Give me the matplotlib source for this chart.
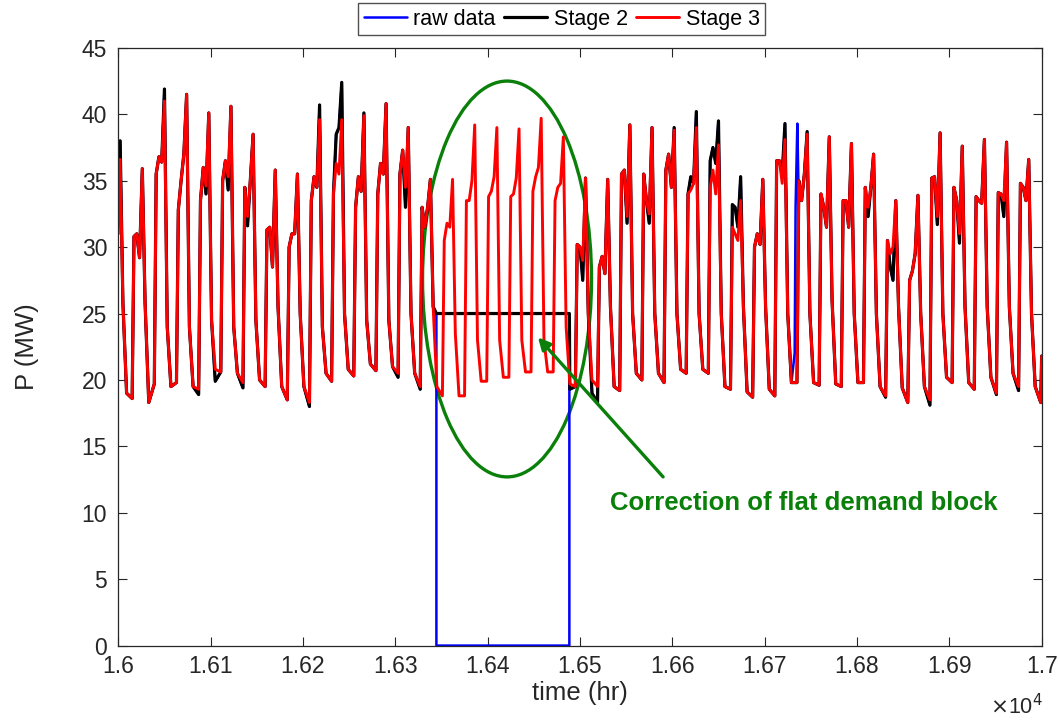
import numpy as np
import matplotlib.pyplot as plt
from matplotlib.patches import Ellipse

plt.rcParams['font.family'] = ['Liberation Sans', 'DejaVu Sans']

# ---- data (P in MW, time in hr) ----
first_peak = 16002          # hour of the first evening peak, one peak per 24 h
start_p3, start_p2 = 31.0, 32.0   # value at t = 16000
end_p = 21.8                       # value at t = 17000

# hours after each evening peak where the points below sit
fall_off = [3, 7, 13]       # knee, trough start, trough end
rise_off = [15, 18, 21]     # morning, midday notch, pre-peak shoulder

# Stage 3 (red), one entry per day
peak = [36.6, 35.9, 41.0, 41.5, 40.1, 40.6, 38.5, 35.8, 35.5, 39.6,
        39.6, 39.9, 40.8, 39.0, 35.1, 35.1, 39.2, 39.0, 38.9, 39.7,
        38.3, 35.2, 35.1, 39.2, 39.0, 38.8, 39.0, 37.7, 33.5, 35.1,
        38.1, 38.5, 38.3, 37.8, 37.0, 33.5, 33.9, 38.6, 37.6, 38.1,
        37.9, 36.6]
knee = [25.8, 25.8, 24.0, 24.0, 24.5, 24.0, 24.5, 25.5, 25.0, 24.0,
        25.0, 24.5, 24.5, 25.0, 25.5, 23.5, 23.0, 23.0, 23.0, 23.0,
        24.0, 25.0, 25.5, 25.0, 25.0, 25.0, 25.0, 25.0, 25.5, 25.5,
        25.0, 25.0, 26.0, 25.0, 25.0, 25.5, 25.0, 25.0, 25.5, 25.5,
        25.5, 25.0]
low1 = [19.0, 18.3, 19.5, 19.5, 20.8, 20.5, 20.0, 19.5, 19.5, 20.5,
        20.8, 21.2, 21.0, 20.5, 19.5, 18.8, 19.9, 20.2, 20.6, 20.6,
        19.7, 20.0, 19.5, 20.5, 20.5, 20.8, 20.8, 19.5, 19.1, 19.3,
        19.8, 19.8, 19.7, 19.8, 19.5, 19.4, 19.5, 20.2, 19.8, 20.2,
        20.5, 19.5]
low2 = [18.6, 19.7, 19.8, 19.3, 20.6, 19.8, 19.5, 18.5, 18.3, 19.9,
        20.3, 20.7, 20.5, 19.5, 18.8, 18.8, 19.9, 20.2, 20.6, 20.6,
        19.5, 19.5, 19.2, 20.0, 19.8, 20.5, 20.5, 19.3, 18.7, 18.8,
        19.8, 19.6, 19.5, 19.8, 18.8, 18.3, 18.5, 19.8, 19.3, 19.0,
        19.5, 18.3]
morn = [30.8, 35.5, 32.8, 33.5, 35.0, 34.5, 31.3, 30.0, 33.5, 34.0,
        33.0, 34.0, 35.5, 33.0, 30.5, 33.5, 33.8, 33.8, 34.2, 33.5,
        30.2, 28.5, 35.5, 35.5, 35.8, 34.0, 34.5, 31.5, 30.0, 36.5,
        35.0, 34.0, 33.5, 34.5, 30.5, 27.5, 35.2, 34.5, 33.8, 34.1,
        34.8]
mid = [31.0, 36.8, 35.0, 36.0, 36.5, 32.3, 31.5, 31.0, 35.3, 36.3,
       35.3, 36.3, 37.3, 31.5, 31.8, 33.5, 34.2, 34.0, 35.3, 34.5,
       30.0, 29.3, 35.8, 33.5, 37.0, 34.3, 35.8, 31.0, 31.0, 36.5,
       33.5, 33.0, 33.5, 33.0, 29.5, 28.2, 35.3, 33.5, 33.5, 34.0,
       34.5]
shoulder = [29.2, 36.4, 37.0, 34.6, 35.3, 35.0, 28.5, 31.0, 34.5, 35.5,
            34.2, 35.5, 34.5, 33.0, 31.5, 35.0, 35.3, 35.2, 36.0, 34.8,
            29.0, 28.0, 32.3, 32.5, 34.5, 34.8, 34.0, 30.5, 30.2, 34.8,
            35.5, 31.5, 31.5, 34.5, 30.0, 29.5, 32.3, 31.0, 33.3, 33.5,
            33.5]

# Stage 2 (black) where it differs from stage 3, keyed by day
s2_peak = {0: 38.0, 2: 41.9, 9: 40.7, 10: 42.4, 11: 40.1, 25: 39.0,
           26: 40.2, 27: 39.5, 28: 35.3, 30: 39.3, 31: 38.7}
s2_low1 = {4: 19.9, 20: 19.3, 21: 19.0}
s2_low2 = {3: 18.9, 5: 19.4, 8: 18.0, 12: 20.2, 13: 19.3, 21: 18.3,
           34: 18.7, 36: 18.1, 39: 18.9, 40: 19.2}
s2_morn = {26: 36.5, 27: 33.2}
s2_mid = {5: 31.6, 9: 38.5, 25: 35.3, 26: 37.5, 27: 33.0, 33: 32.3, 34: 28.5}
s2_shoulder = {3: 34.0, 4: 34.3, 9: 39.0, 12: 33.0, 20: 27.5, 22: 31.8,
               23: 31.8, 26: 36.3, 27: 31.5, 29: 35.5, 34: 27.5, 36: 31.7,
               37: 30.3, 39: 32.3}

# flat demand block in stage 2 / zero block in the raw data
block_start, block_end = 16344.5, 16488.5
block_level = 25.0
raw_after_block = 20.5
# isolated spike in the raw data
spike_t = [16732.5, 16733.5, 16735.4, 16736.5]
spike_p = [22.0, 33.0, 39.3, 35.0]


def with_overrides(vals, over):
    out = list(vals)
    for k, v in over.items():
        out[k] = v
    return out


def build_series(start, pk, kn, l1, l2, mo, mi, sh):
    t, p = [16000.0], [start]
    for k in range(len(pk)):
        t0 = first_peak + 24 * k
        t.append(t0)
        p.append(pk[k])
        for off, arr in zip(fall_off, [kn, l1, l2]):
            t.append(t0 + off)
            p.append(arr[k])
        if k < len(mo):
            for off, arr in zip(rise_off, [mo, mi, sh]):
                t.append(t0 + off)
                p.append(arr[k])
    t.append(17000.0)
    p.append(end_p)
    return np.array(t), np.array(p)


t3, p3 = build_series(start_p3, peak, knee, low1, low2, morn, mid, shoulder)
t2, p2 = build_series(start_p2, with_overrides(peak, s2_peak), knee,
                      with_overrides(low1, s2_low1), with_overrides(low2, s2_low2),
                      with_overrides(morn, s2_morn), with_overrides(mid, s2_mid),
                      with_overrides(shoulder, s2_shoulder))

# stage 2: flat block
keep = (t2 < block_start) | (t2 > block_end)
t2b = np.concatenate([t2[keep], [block_start, block_end]])
p2b = np.concatenate([p2[keep], [block_level, block_level]])
order = np.argsort(t2b, kind='stable')
t2b, p2b = t2b[order], p2b[order]

# raw: zeros in the block plus a spike
before = t2 < block_start
after = t2 > block_end
no_spike = (t2 < spike_t[0]) | (t2 > spike_t[-1])
t1 = np.concatenate([t2[before],
                     [block_start, block_start, block_end, block_end],
                     t2[after & no_spike], spike_t])
p1 = np.concatenate([p2[before],
                     [block_level, 0.0, 0.0, raw_after_block],
                     p2[after & no_spike], spike_p])
order = np.argsort(t1, kind='stable')
t1, p1 = t1[order], p1[order]

# ---- plot ----
fig = plt.figure(figsize=(10.6, 7.21), dpi=100)
ax = fig.add_axes([0.1116, 0.1046, 0.8711, 0.8290])

line_kw = dict(solid_joinstyle='round', solid_capstyle='round')
ax.plot(t1, p1, color='blue', lw=1.8, label='raw data', **line_kw)
ax.plot(t2b, p2b, color='black', lw=2.3, label='Stage 2', **line_kw)
ax.plot(t3, p3, color='red', lw=2.1, label='Stage 3', **line_kw)

ax.set_xlim(16000, 17000)
ax.set_ylim(0, 45)
xt = np.arange(16000, 17001, 100)
ax.set_xticks(xt)
ax.set_xticklabels(['%g' % (v / 1e4) for v in xt])
ax.set_yticks(np.arange(0, 46, 5))
ax.tick_params(direction='in', length=6.5, width=0.8, top=True, right=True,
               labelsize=16.5, colors='#262626')
ax.tick_params(axis='x', pad=7)
ax.tick_params(axis='y', pad=8)
for s in ax.spines.values():
    s.set_color('#262626')
    s.set_linewidth(0.9)

ax.set_xlabel('time (hr)', fontsize=18.5, color='#262626', va='center')
ax.set_ylabel('P (MW)', fontsize=18.5, color='#262626', va='center')
ax.xaxis.set_label_coords(0.5, -0.079)
ax.yaxis.set_label_coords(-0.099, 0.5)
fig.text(0.984, 0.003, r'$\times$10$^{4}$', fontsize=15.5, color='#262626',
         ha='right', va='bottom')

ax.add_patch(Ellipse((16421, 27.6), 183, 29.8, fill=False,
                     ec='#0a800a', lw=2.4))
ax.annotate('', xy=(16454.5, 23.2), xytext=(16590, 12.7),
            arrowprops=dict(arrowstyle='-|>', color='#0a800a', lw=2.4,
                            mutation_scale=18, shrinkA=0, shrinkB=0))
ax.text(16742.6, 10.7, 'Correction of flat demand block', color='#0a800a',
        fontweight='bold', fontsize=18.5, ha='center', va='center')

fig.legend(loc='center', bbox_to_anchor=(0.530, 0.9736), ncol=3,
           fontsize=15.5, frameon=True, fancybox=False, edgecolor='#262626',
           handlelength=2.0, handletextpad=0.3, columnspacing=0.4,
           borderpad=0.25, borderaxespad=0)

fig.savefig('out.png', dpi=100)
